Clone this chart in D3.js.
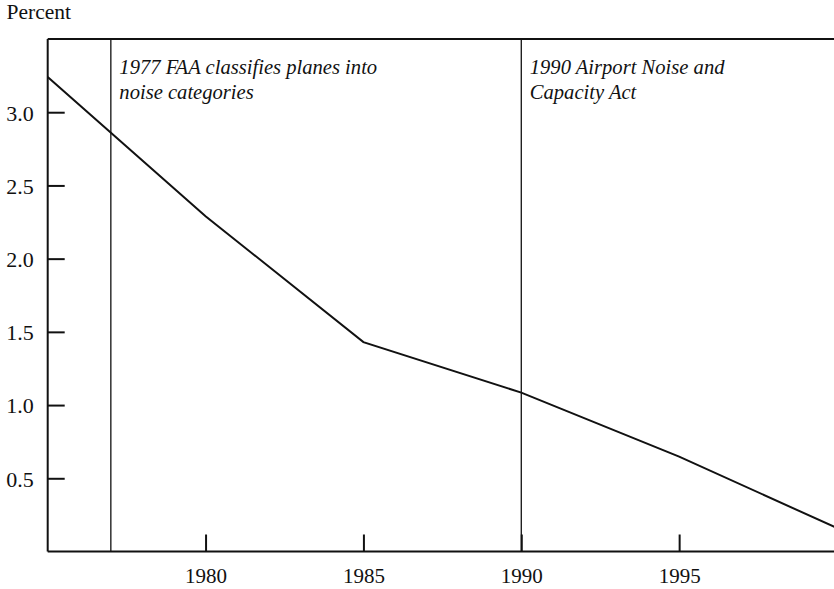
<!DOCTYPE html>
<html>
<head>
<meta charset="utf-8">
<script src="https://cdn.jsdelivr.net/npm/d3@7"></script>
<style>
  body { margin: 0; background: #fff; }
  svg text { font-family: "Liberation Serif", "Times New Roman", serif; fill: #111; }
</style>
</head>
<body>
<div id="chart"></div>
<script>
// data
const years = [1975, 1980, 1985, 1990, 1995, 2000];
const percent = [3.24, 2.29, 1.43, 1.085, 0.648, 0.16];
const yTicks = [0.5, 1.0, 1.5, 2.0, 2.5, 3.0];
const xTicks = [1980, 1985, 1990, 1995];
const eventYears = [1977, 1990];
const eventLabels = [
  ["1977 FAA classifies planes into", "noise categories"],
  ["1990 Airport Noise and", "Capacity Act"]
];

const w = 834;
const h = 589;

const xScale = d3.scaleLinear()
                 .domain([1975, 2000])
                 .range([47.7, 837]);

const yScale = d3.scaleLinear()
                 .domain([0, 3.5])
                 .range([551.5, 39]);

const svg = d3.select("#chart")
              .append("svg")
              .attr("width", w)
              .attr("height", h);

// event lines
svg.selectAll("line.event")
   .data(eventYears)
   .enter()
   .append("line")
   .attr("class", "event")
   .attr("x1", d => xScale(d))
   .attr("x2", d => xScale(d))
   .attr("y1", yScale(3.5))
   .attr("y2", yScale(0))
   .attr("stroke", "#111")
   .attr("stroke-width", 1.3);

// event labels
eventYears.forEach(function(yr, i) {
  const t = svg.append("text")
     .attr("x", xScale(yr) + 8.5)
     .attr("y", 74)
     .style("font-style", "italic")
     .style("font-size", "20.6px");
  eventLabels[i].forEach(function(line, j) {
    t.append("tspan")
     .attr("x", xScale(yr) + 8.5)
     .attr("dy", j === 0 ? 0 : 24.5)
     .text(line);
  });
});

// the data line
const line = d3.line()
               .x((d, i) => xScale(years[i]))
               .y(d => yScale(d));

svg.append("path")
   .datum(percent)
   .attr("d", line)
   .attr("fill", "none")
   .attr("stroke", "#111")
   .attr("stroke-width", 2)
   .attr("stroke-linejoin", "miter");

// top frame line
svg.append("line")
   .attr("x1", xScale(1975))
   .attr("x2", w)
   .attr("y1", yScale(3.5))
   .attr("y2", yScale(3.5))
   .attr("stroke", "#111")
   .attr("stroke-width", 2);

// axes with inner ticks
const xAxis = d3.axisTop(xScale)
                .tickValues(xTicks)
                .tickFormat(d3.format("d"))
                .tickSize(17)
                .tickSizeOuter(0);

const yAxis = d3.axisRight(yScale)
                .tickValues(yTicks)
                .tickFormat(d3.format(".1f"))
                .tickSize(17)
                .tickSizeOuter(0);

const gx = svg.append("g")
   .attr("transform", "translate(0," + yScale(0) + ")")
   .call(xAxis);
gx.select(".domain").attr("d", "M" + xScale(1975) + ",0H" + w);
gx.selectAll("text")
  .attr("y", 31.5)
  .attr("dy", 0)
  .style("font-size", "21px");

const gy = svg.append("g")
   .attr("transform", "translate(" + xScale(1975) + ",0)")
   .call(yAxis);
gy.select(".domain").attr("d", "M0," + yScale(3.5) + "V" + yScale(0));
gy.selectAll("text")
  .attr("x", -14)
  .attr("dy", "0.36em")
  .attr("text-anchor", "end")
  .style("font-size", "22px");

svg.selectAll(".domain, .tick line")
   .attr("stroke", "#111")
   .attr("stroke-width", 2);
svg.selectAll(".tick text").attr("fill", "#111").style("font-family", "Liberation Serif, serif");

// axis title
svg.append("text")
   .attr("x", 6.5)
   .attr("y", 18.5)
   .style("font-size", "21.5px")
   .text("Percent");
</script>
</body>
</html>
